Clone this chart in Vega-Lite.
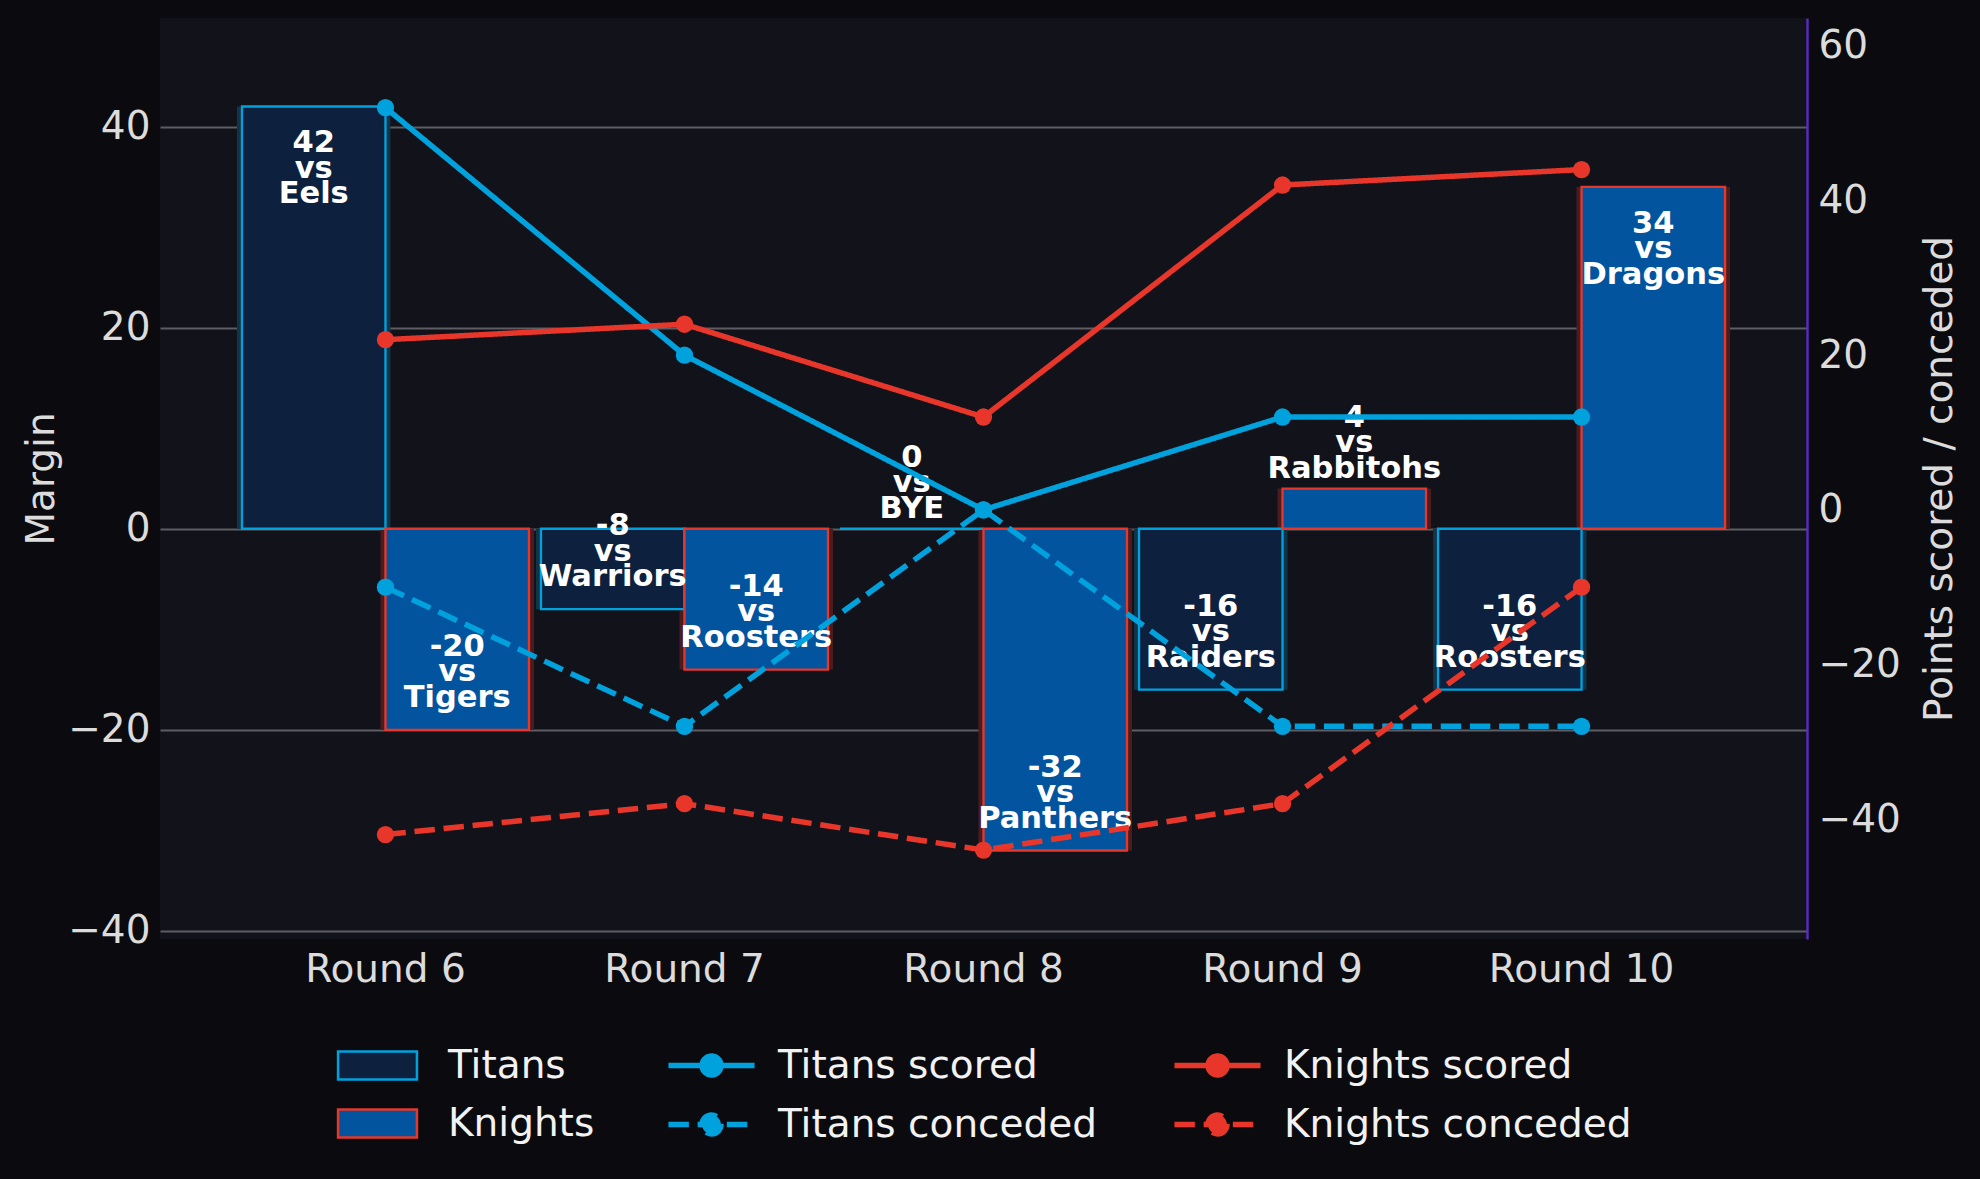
{
  "$schema": "https://vega.github.io/schema/vega-lite/v6.json",
  "width": 1647,
  "height": 921,
  "autosize": {"type": "none"},
  "padding": {"left": 160, "top": 18, "right": 173, "bottom": 240},
  "background": "#0b0b0f",
  "datasets": {
    "bars": [
      {"round": "Round 6", "team": "Titans", "margin": 42, "opponent": "Eels", "label": "42\nvs\nEels"},
      {"round": "Round 6", "team": "Knights", "margin": -20, "opponent": "Tigers", "label": "-20\nvs\nTigers"},
      {"round": "Round 7", "team": "Titans", "margin": -8, "opponent": "Warriors", "label": "-8\nvs\nWarriors"},
      {"round": "Round 7", "team": "Knights", "margin": -14, "opponent": "Roosters", "label": "-14\nvs\nRoosters"},
      {"round": "Round 8", "team": "Titans", "margin": 0, "opponent": "BYE", "label": "0\nvs\nBYE"},
      {"round": "Round 8", "team": "Knights", "margin": -32, "opponent": "Panthers", "label": "-32\nvs\nPanthers"},
      {"round": "Round 9", "team": "Titans", "margin": -16, "opponent": "Raiders", "label": "-16\nvs\nRaiders"},
      {"round": "Round 9", "team": "Knights", "margin": 4, "opponent": "Rabbitohs", "label": "4\nvs\nRabbitohs"},
      {"round": "Round 10", "team": "Titans", "margin": -16, "opponent": "Roosters", "label": "-16\nvs\nRoosters"},
      {"round": "Round 10", "team": "Knights", "margin": 34, "opponent": "Dragons", "label": "34\nvs\nDragons"}
    ],
    "lines": [
      {"round": "Round 6", "series": "Titans scored", "points": 52},
      {"round": "Round 7", "series": "Titans scored", "points": 20},
      {"round": "Round 8", "series": "Titans scored", "points": 0},
      {"round": "Round 9", "series": "Titans scored", "points": 12},
      {"round": "Round 10", "series": "Titans scored", "points": 12},
      {"round": "Round 6", "series": "Titans conceded", "points": -10},
      {"round": "Round 7", "series": "Titans conceded", "points": -28},
      {"round": "Round 8", "series": "Titans conceded", "points": 0},
      {"round": "Round 9", "series": "Titans conceded", "points": -28},
      {"round": "Round 10", "series": "Titans conceded", "points": -28},
      {"round": "Round 6", "series": "Knights scored", "points": 22},
      {"round": "Round 7", "series": "Knights scored", "points": 24},
      {"round": "Round 8", "series": "Knights scored", "points": 12},
      {"round": "Round 9", "series": "Knights scored", "points": 42},
      {"round": "Round 10", "series": "Knights scored", "points": 44},
      {"round": "Round 6", "series": "Knights conceded", "points": -42},
      {"round": "Round 7", "series": "Knights conceded", "points": -38},
      {"round": "Round 8", "series": "Knights conceded", "points": -44},
      {"round": "Round 9", "series": "Knights conceded", "points": -38},
      {"round": "Round 10", "series": "Knights conceded", "points": -10}
    ]
  },
  "layer": [
    {
      "data": {"name": "bars"},
      "encoding": {
        "x": {"field": "round", "type": "nominal", "sort": ["Round 6", "Round 7", "Round 8", "Round 9", "Round 10"], "scale": {"paddingInner": 0, "paddingOuter": 0.254}, "title": null},
        "xOffset": {"field": "team", "type": "nominal", "sort": ["Titans", "Knights"], "scale": {"domain": ["Titans", "Knights"], "paddingInner": 0, "paddingOuter": 0.0418}},
        "y": {"field": "margin", "type": "quantitative", "scale": {"domain": [-40.8, 50.8], "nice": false, "zero": false}, "axis": {"orient": "left", "values": [-40, -20, 0, 20, 40], "title": "Margin", "grid": true, "titlePadding": 6}}
      },
      "layer": [
        {
          "transform": [{"filter": "datum.team === 'Titans'"}],
          "mark": {"type": "bar", "fill": "#123448", "width": 153.5}
        },
        {
          "transform": [{"filter": "datum.team === 'Knights'"}],
          "mark": {"type": "bar", "fill": "#4b1c1e", "width": 153.5}
        },
        {
          "mark": {"type": "bar", "strokeWidth": 2.3, "fillOpacity": 1, "strokeOpacity": 1},
          "encoding": {
            "fill": {"field": "team", "type": "nominal", "scale": {"domain": ["Titans", "Knights"], "range": ["#0d213e", "#02549e"]},
              "legend": {"orient": "none", "legendX": 198, "legendY": 1028, "title": null, "direction": "vertical", "padding": 0, "offset": 0, "labelLimit": 0,
                "symbolType": "M-2.63,-0.93L2.63,-0.93L2.63,0.93L-2.63,0.93Z", "symbolSize": 900, "symbolStrokeWidth": 2.5, "symbolOpacity": 1,
                "labelOffset": 51, "rowPadding": 18, "labelFont": "DejaVu Sans", "labelFontSize": 39, "labelColor": "#f2f2f2"}},
            "stroke": {"field": "team", "type": "nominal", "scale": {"domain": ["Titans", "Knights"], "range": ["#00a2de", "#e8372a"]},
              "legend": {"orient": "none", "legendX": 198, "legendY": 1028, "title": null, "direction": "vertical", "padding": 0, "offset": 0, "labelLimit": 0,
                "symbolType": "M-2.63,-0.93L2.63,-0.93L2.63,0.93L-2.63,0.93Z", "symbolSize": 900, "symbolStrokeWidth": 2.5, "symbolOpacity": 1,
                "labelOffset": 51, "rowPadding": 18, "labelFont": "DejaVu Sans", "labelFontSize": 39, "labelColor": "#f2f2f2"}}
          }
        },
        {
          "transform": [{"filter": "datum.margin >= 10"}],
          "mark": {"type": "text", "font": "DejaVu Sans", "fontWeight": "bold", "fontSize": 30.5, "fill": "#ffffff", "lineBreak": "\n", "lineHeight": 25.5, "baseline": "middle", "align": "center", "dy": 37},
          "encoding": {"text": {"field": "label", "type": "nominal"}}
        },
        {
          "transform": [{"filter": "datum.margin < 0"}],
          "mark": {"type": "text", "font": "DejaVu Sans", "fontWeight": "bold", "fontSize": 30.5, "fill": "#ffffff", "lineBreak": "\n", "lineHeight": 25.5, "baseline": "middle", "align": "center", "dy": -83},
          "encoding": {"text": {"field": "label", "type": "nominal"}}
        },
        {
          "transform": [{"filter": "datum.margin >= 0 && datum.margin < 10"}],
          "mark": {"type": "text", "font": "DejaVu Sans", "fontWeight": "bold", "fontSize": 30.5, "fill": "#ffffff", "lineBreak": "\n", "lineHeight": 25.5, "baseline": "middle", "align": "center", "dy": -71},
          "encoding": {"text": {"field": "label", "type": "nominal"}}
        }
      ]
    },
    {
      "data": {"name": "lines"},
      "mark": {"type": "line", "strokeWidth": 5.5, "point": {"filled": true, "size": 300}},
      "encoding": {
        "x": {"field": "round", "type": "nominal", "sort": ["Round 6", "Round 7", "Round 8", "Round 9", "Round 10"], "title": null},
        "y": {"field": "points", "type": "quantitative", "scale": {"domain": [-55.5, 63.6], "nice": false, "zero": false},
          "axis": {"orient": "right", "values": [-40, -20, 0, 20, 40, 60], "title": "Points scored / conceded", "grid": false, "domain": true, "domainColor": "#5b2bc4", "domainWidth": 2.4, "titleAngle": 270, "titlePadding": 59, "labelPadding": 11}},
        "color": {"field": "series", "type": "nominal",
          "scale": {"domain": ["Titans scored", "Titans conceded", "Knights scored", "Knights conceded"], "range": ["#00a2de", "#00a2de", "#e8372a", "#e8372a"]},
          "legend": {"orient": "none", "legendX": 532, "legendY": 1028, "title": null, "columns": 2, "columnPadding": 65, "rowPadding": 18, "padding": 0, "offset": 0, "labelLimit": 0,
            "symbolType": "M-2.87,0L2.87,0M0.63,0A0.63,0.63,0,1,1,-0.63,0A0.63,0.63,0,1,1,0.63,0Z", "symbolSize": 900, "symbolStrokeWidth": 5.5, "symbolOpacity": 1,
            "labelOffset": 47, "labelFont": "DejaVu Sans", "labelFontSize": 39, "labelColor": "#f2f2f2",
            "encode": {"symbols": {"update": {"fill": {"scale": "color", "field": "value"}}}}}},
        "strokeDash": {"field": "series", "type": "nominal",
          "scale": {"domain": ["Titans scored", "Titans conceded", "Knights scored", "Knights conceded"], "range": [[1, 0], [20.4, 8.8], [1, 0], [20.4, 8.8]]},
          "legend": {"orient": "none", "legendX": 532, "legendY": 1028, "title": null, "columns": 2, "columnPadding": 65, "rowPadding": 18, "padding": 0, "offset": 0, "labelLimit": 0,
            "symbolType": "M-2.87,0L2.87,0M0.63,0A0.63,0.63,0,1,1,-0.63,0A0.63,0.63,0,1,1,0.63,0Z", "symbolSize": 900, "symbolStrokeWidth": 5.5, "symbolOpacity": 1,
            "labelOffset": 47, "labelFont": "DejaVu Sans", "labelFontSize": 39, "labelColor": "#f2f2f2",
            "encode": {"symbols": {"update": {"fill": {"scale": "color", "field": "value"}}}}}}
      }
    }
  ],
  "resolve": {"scale": {"y": "independent"}},
  "config": {
    "view": {"fill": "#12131a", "stroke": null},
    "font": "DejaVu Sans",
    "axis": {
      "labelFont": "DejaVu Sans", "labelFontSize": 39, "labelColor": "#dcdcdc", "labelLimit": 0,
      "titleFont": "DejaVu Sans", "titleFontSize": 39, "titleFontWeight": "normal", "titleColor": "#dcdcdc",
      "ticks": false, "tickSize": 0, "domain": false, "gridColor": "#5d5d63", "gridWidth": 2, "labelPadding": 10
    },
    "axisX": {"labelAngle": 0, "labelPadding": 11, "grid": false, "domain": false},
    "legend": {"labelLimit": 0}
  }
}
